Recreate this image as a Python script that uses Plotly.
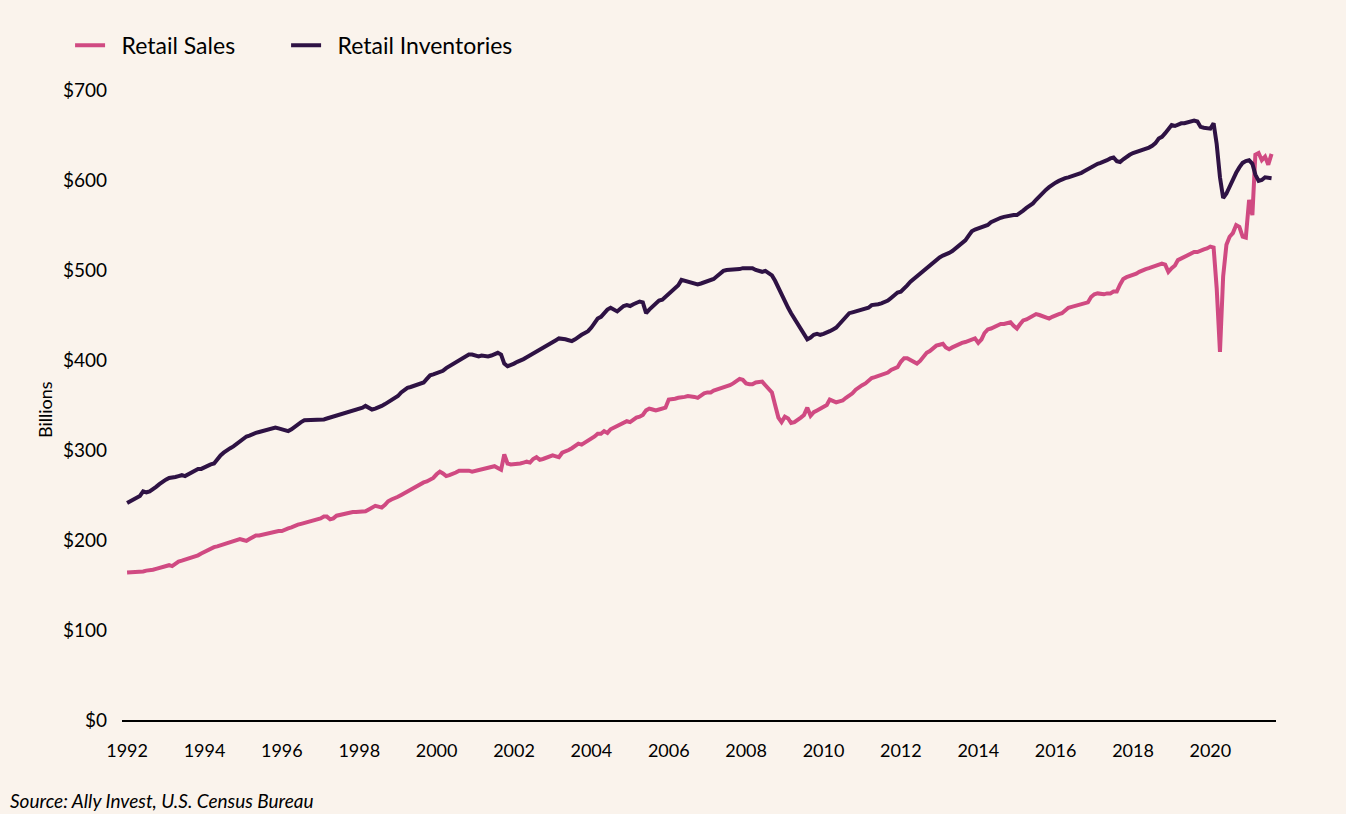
import plotly.graph_objects as go
import pandas as pd

# Monthly values, $ billions, Jan 1992 - Aug 2021
inventories_by_year = {
    1992: [241, 243, 245, 247, 249, 254, 253, 254, 256, 259, 262, 265],
    1993: [267, 269, 269, 270, 271, 272, 271, 273, 275, 277, 279, 279],
    1994: [281, 283, 284, 285, 290, 294, 297, 300, 302, 304, 307, 310],
    1995: [312, 315, 316, 318, 319, 320, 321, 322, 323, 324, 325, 324],
    1996: [323, 322, 321, 323, 326, 329, 331, 333, 333, 333, 333, 334],
    1997: [333, 334, 335, 336, 337, 339, 340, 341, 342, 343, 344, 345],
    1998: [346, 347, 349, 347, 345, 346, 347, 349, 351, 353, 355, 357],
    1999: [360, 364, 367, 369, 370, 371, 372, 373, 375, 379, 383, 384],
    2000: [385, 386, 388, 391, 393, 396, 398, 400, 402, 404, 406, 406],
    2001: [405, 404, 405, 404, 404, 405, 406, 408, 406, 396, 393, 394],
    2002: [396, 398, 400, 401, 403, 405, 407, 409, 411, 413, 416, 418],
    2003: [420, 422, 424, 424, 423, 422, 421, 423, 426, 428, 430, 432],
    2004: [436, 441, 446, 448, 452, 456, 458, 456, 454, 457, 460, 461],
    2005: [460, 462, 463, 465, 464, 452, 456, 459, 463, 466, 467, 470],
    2006: [473, 476, 479, 483, 489, 488, 487, 486, 485, 484, 485, 486],
    2007: [487, 488, 490, 493, 496, 499, 500, 500, 500, 501, 501, 502],
    2008: [502, 503, 502, 500, 499, 498, 499, 497, 494, 488, 480, 472],
    2009: [465, 458, 452, 446, 441, 436, 430, 423, 425, 428, 429, 428],
    2010: [429, 430, 432, 434, 436, 440, 444, 449, 452, 453, 454, 455],
    2011: [455, 456, 458, 461, 461, 462, 463, 464, 466, 469, 472, 475],
    2012: [476, 479, 483, 487, 490, 494, 497, 500, 503, 505, 508, 512],
    2013: [514, 516, 517, 519, 521, 524, 527, 529, 533, 538, 543, 545],
    2014: [546, 547, 548, 550, 553, 555, 557, 558, 559, 560, 561, 561],
    2015: [561, 563, 566, 569, 571, 574, 578, 582, 586, 589, 592, 595],
    2016: [597, 599, 601, 602, 603, 604, 605, 607, 608, 610, 612, 615],
    2017: [616, 618, 619, 620, 622, 624, 625, 621, 620, 623, 626, 628],
    2018: [630, 631, 632, 634, 635, 636, 638, 641, 646, 648, 652, 657],
    2019: [661, 660, 662, 663, 663, 664, 665, 666, 665, 659, 658, 657],
    2020: [657, 663, 640, 603, 580, 585, 593, 601, 608, 614, 619, 621],
    2021: [622, 618, 606, 599, 600, 603, 603, 602],
}

sales_by_year = {
    1992: [164, 164, 164, 165, 165, 165, 166, 166, 167, 168, 169, 170],
    1993: [171, 172, 171, 174, 176, 177, 178, 179, 180, 182, 183, 185],
    1994: [187, 189, 191, 192, 193, 194, 195, 197, 198, 199, 200, 201],
    1995: [200, 199, 201, 203, 205, 205, 206, 207, 207, 208, 209, 210],
    1996: [210, 212, 213, 214, 216, 217, 218, 219, 219, 220, 221, 222],
    1997: [224, 226, 226, 223, 224, 227, 228, 228, 229, 230, 231, 231],
    1998: [231, 232, 232, 234, 236, 238, 237, 236, 239, 243, 245, 246],
    1999: [248, 250, 252, 254, 256, 258, 260, 262, 264, 265, 267, 269],
    2000: [273, 276, 274, 271, 272, 273, 275, 277, 277, 278, 277, 276],
    2001: [277, 278, 279, 280, 281, 281, 282, 280, 278, 295, 285, 284],
    2002: [284, 285, 285, 286, 287, 286, 290, 292, 289, 290, 291, 292],
    2003: [294, 293, 292, 297, 298, 300, 302, 305, 307, 306, 308, 310],
    2004: [312, 315, 318, 318, 321, 319, 323, 325, 326, 329, 331, 332],
    2005: [331, 334, 336, 337, 339, 344, 346, 345, 344, 345, 346, 347],
    2006: [356, 356, 357, 358, 358, 359, 360, 360, 359, 358, 361, 363],
    2007: [364, 364, 366, 367, 368, 369, 370, 372, 374, 376, 379, 378],
    2008: [374, 373, 373, 375, 376, 376, 372, 368, 364, 350, 336, 331],
    2009: [337, 335, 330, 331, 333, 336, 339, 347, 338, 342, 344, 346],
    2010: [348, 350, 356, 355, 353, 354, 355, 358, 360, 363, 367, 370],
    2011: [372, 374, 377, 380, 381, 382, 383, 384, 386, 389, 391, 392],
    2012: [398, 402, 402, 400, 397, 396, 399, 404, 408, 410, 413, 416],
    2013: [417, 418, 414, 412, 414, 416, 418, 419, 420, 421, 422, 424],
    2014: [419, 423, 430, 434, 435, 437, 438, 440, 440, 441, 442, 438],
    2015: [435, 440, 444, 445, 447, 449, 451, 450, 449, 447, 446, 448],
    2016: [450, 451, 452, 455, 458, 459, 460, 461, 462, 463, 464, 470],
    2017: [473, 474, 473, 473, 474, 474, 476, 476, 484, 490, 492, 493],
    2018: [494, 496, 498, 500, 501, 502, 503, 504, 505, 507, 506, 498],
    2019: [502, 505, 511, 513, 514, 516, 518, 520, 520, 522, 523, 524],
    2020: [526, 525, 480, 409, 493, 528, 537, 541, 550, 548, 537, 536],
    2021: [578, 561, 628, 630, 622, 626, 617, 629],
}

series_names = ["Retail Sales", "Retail Inventories"]

sales = [v for y in sorted(sales_by_year) for v in sales_by_year[y]]
inventories = [v for y in sorted(inventories_by_year) for v in inventories_by_year[y]]
dates = pd.date_range("1992-01-01", periods=len(sales), freq="MS")

PINK = "#D04A82"
PURPLE = "#2E1244"
BG = "#FAF3EC"
FONT = "Lato"

fig = go.Figure()
fig.add_trace(go.Scatter(x=dates, y=sales, mode="lines",
                         name="\u2002" + series_names[0] + "\u2002\u2002\u2002\u2002",
                         line=dict(color=PINK, width=4)))
fig.add_trace(go.Scatter(x=dates, y=inventories, mode="lines",
                         name="\u2002" + series_names[1],
                         line=dict(color=PURPLE, width=4)))

fig.update_layout(
    width=1346, height=814,
    paper_bgcolor=BG, plot_bgcolor=BG,
    margin=dict(l=122, r=70, t=90, b=94),
    font=dict(family=FONT, color="#000000", size=18),
    showlegend=True,
    legend=dict(orientation="h", x=-0.045, xanchor="left", y=1.071, yanchor="middle",
                font=dict(size=23, family=FONT), bgcolor="rgba(0,0,0,0)",
                itemwidth=30, tracegroupgap=0),
    xaxis=dict(type="date", range=["1991-11-14", "2021-09-12"],
               tick0="1992-01-01", dtick="M24", tickformat="%Y",
               showgrid=False, zeroline=False, showline=True, linecolor="#000000",
               linewidth=1.5, ticks="", ticklabelstandoff=14,
               tickfont=dict(size=18, family=FONT)),
    yaxis=dict(range=[0, 700], dtick=100, tickprefix="$", showgrid=False,
               zeroline=False, showline=False, ticks="", ticklabelstandoff=14,
               tickfont=dict(size=19, family=FONT)),
    annotations=[
        dict(text="Billions", textangle=-90, xref="paper", yref="paper",
             x=-0.0667, y=0.492, xanchor="center", yanchor="middle",
             showarrow=False, font=dict(size=18, family=FONT)),
        dict(text="<i>Source: Ally Invest, U.S. Census Bureau</i>", xref="paper", yref="paper",
             x=-0.099, y=-0.127, xanchor="left", yanchor="middle",
             showarrow=False, font=dict(size=19, family=FONT)),
    ],
)

fig.write_html("out.html", config={"displayModeBar": False},
               post_script="document.body.style.margin='0';document.body.style.overflow='hidden';")
